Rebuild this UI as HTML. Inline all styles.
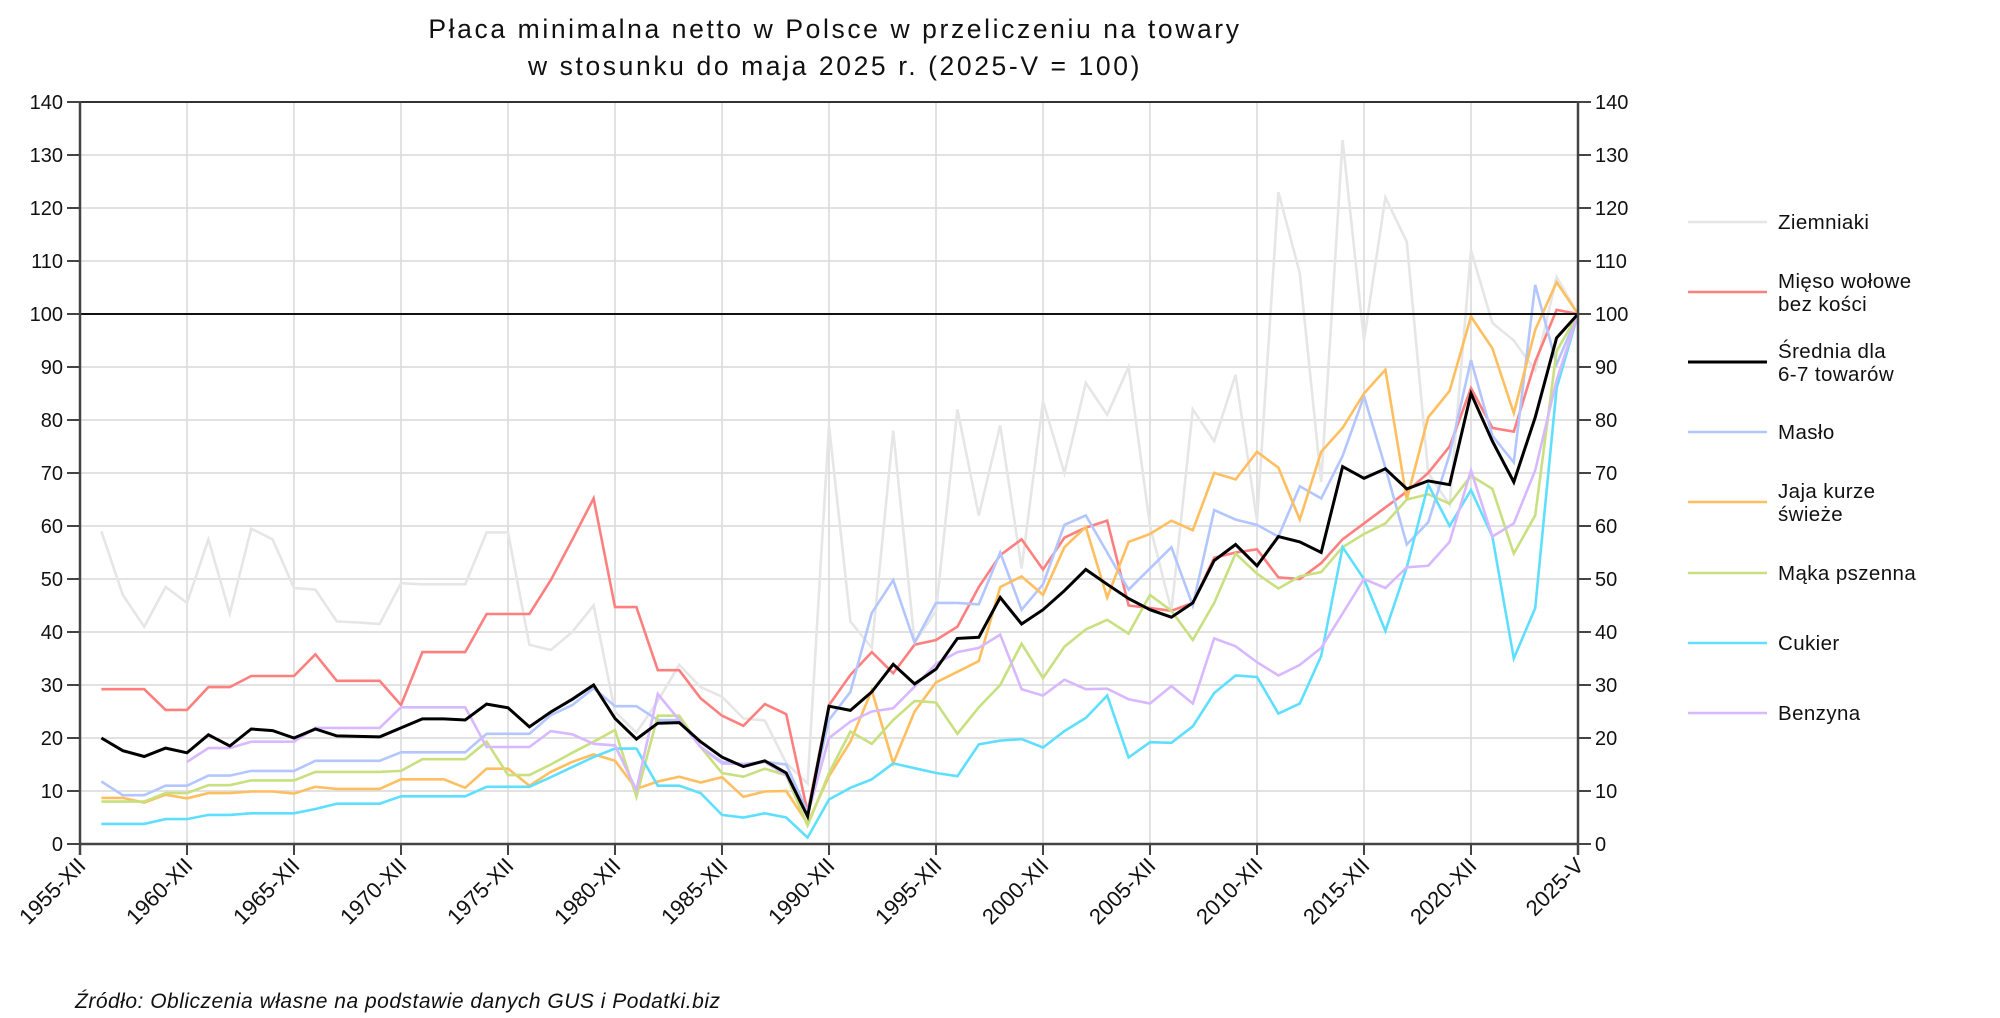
<!DOCTYPE html>
<html><head><meta charset="utf-8"><style>
html,body{margin:0;padding:0;background:#fff;}
svg{display:block;font-family:"Liberation Sans","DejaVu Sans",sans-serif;}
</style></head><body>
<svg id="c" width="2000" height="1018" viewBox="0 0 2000 1018" xmlns="http://www.w3.org/2000/svg">
<rect width="2000" height="1018" fill="#fff"/>
<text x="835" y="38" font-size="26.5" letter-spacing="2.6" text-anchor="middle" fill="#111">Płaca minimalna netto w Polsce w przeliczeniu na towary</text>
<text x="835" y="75" font-size="26.5" letter-spacing="2.6" text-anchor="middle" fill="#111">w stosunku do maja 2025 r. (2025-V = 100)</text>
<g id="grid"></g>
<g id="series"></g>
<g id="axes"></g>
<text x="75" y="1008" font-size="21" letter-spacing="0.5" font-style="italic" fill="#111">Źródło: Obliczenia własne na podstawie danych GUS i Podatki.biz</text>
</svg>
<script>
const NS="http://www.w3.org/2000/svg";
const X0=80,DX=21.4,Y0=844,DY=5.3;
const X=i=>X0+DX*i, Y=v=>Y0-DY*v;
function el(p,t,a,txt){const e=document.createElementNS(NS,t);for(const k in a)e.setAttribute(k,a[k]);if(txt!==undefined)e.textContent=txt;p.appendChild(e);return e;}
const g=document.getElementById('grid'),ax=document.getElementById('axes'),s=document.getElementById('series');
const XR=X(70);
for(let v=10;v<=130;v+=10){el(g,'line',{x1:X0,x2:XR,y1:Y(v),y2:Y(v),stroke:'#d9d9d9','stroke-width':1.5});}
for(let k=1;k<14;k++){el(g,'line',{x1:X(5*k),x2:X(5*k),y1:Y(140),y2:Y0,stroke:'#d9d9d9','stroke-width':1.5});}
el(ax,'line',{x1:X0,x2:XR,y1:Y(140),y2:Y(140),stroke:'#333','stroke-width':2});
el(ax,'line',{x1:X0,x2:XR,y1:Y(100),y2:Y(100),stroke:'#111','stroke-width':2});
el(ax,'line',{x1:X0,x2:X0,y1:Y(140)-1,y2:Y0+11,stroke:'#444','stroke-width':2.5});
el(ax,'line',{x1:XR,x2:XR,y1:Y(140)-1,y2:Y0+11,stroke:'#444','stroke-width':2.5});
el(ax,'line',{x1:X0,x2:XR,y1:Y0,y2:Y0,stroke:'#444','stroke-width':2.5});
for(let v=0;v<=140;v+=10){
 el(ax,'line',{x1:X0-13,x2:X0,y1:Y(v),y2:Y(v),stroke:'#444','stroke-width':2});
 el(ax,'line',{x1:XR,x2:XR+13,y1:Y(v),y2:Y(v),stroke:'#444','stroke-width':2});
 el(ax,'text',{x:63,y:Y(v)+7,'font-size':20,'text-anchor':'end',fill:'#111'},String(v));
 el(ax,'text',{x:XR+17,y:Y(v)+7,'font-size':20,fill:'#111'},String(v));
}
const labs=['1955-XII','1960-XII','1965-XII','1970-XII','1975-XII','1980-XII','1985-XII','1990-XII','1995-XII','2000-XII','2005-XII','2010-XII','2015-XII','2020-XII','2025-V'];
labs.forEach((l,k)=>{const x=X(Math.min(5*k,70));
 el(ax,'line',{x1:x,x2:x,y1:Y0,y2:Y0+11,stroke:'#444','stroke-width':2});
 el(ax,'text',{x:0,y:0,'font-size':22,'text-anchor':'end',fill:'#111',transform:`translate(${x+7},${Y0+23}) rotate(-45)`},l);
});
const D={
z:[null,59,47,41,48.5,45.5,57.5,43.5,59.5,57.5,48.3,48,42,41.8,41.5,49.2,49,49,49,58.8,58.8,37.6,36.6,40,45,25,21,27,33.8,29.6,27.8,23.7,23.3,15.3,11.4,79,42,37,78,38,44,82,62,79,52,83.5,70,87,81,90,60,44,82,76,88.5,61,123,107.7,68.3,132.8,95,122,113.6,70,64,112,98.3,95,89.4,107,100],
m:[null,29.2,29.2,29.2,25.3,25.3,29.6,29.6,31.7,31.7,31.7,35.8,30.8,30.8,30.8,26.2,36.2,36.2,36.2,43.4,43.4,43.4,49.8,57.4,65.2,44.7,44.7,32.8,32.8,27.5,24.2,22.3,26.4,24.5,6,26.2,31.9,36.2,32.2,37.6,38.5,41,48.5,54.5,57.5,51.8,57.8,59.7,61,45,44.5,44,45.5,54,55,55.6,50.3,50,53,57.5,60.5,63.5,66.5,70,75,86,78.5,77.8,91,100.8,100],
a:[null,20,17.6,16.5,18.1,17.2,20.6,18.5,21.7,21.4,20,21.7,20.4,20.3,20.2,21.9,23.6,23.6,23.4,26.4,25.7,22.1,24.9,27.3,30,23.7,19.8,22.8,22.9,19.3,16.4,14.6,15.7,13.4,5.2,26,25.2,28.7,33.9,30.2,33,38.8,39,46.5,41.5,44.2,47.8,51.8,49,46.3,44.2,42.8,45.5,53.5,56.5,52.5,58,57,55,71.2,69,70.8,67,68.5,67.8,85,76,68.3,80.5,95.5,100],
b:[null,11.8,9.2,9.2,11,11,12.9,12.9,13.8,13.8,13.8,15.7,15.7,15.7,15.7,17.3,17.3,17.3,17.3,20.8,20.8,20.8,24.3,26.2,29.4,26,26,23.4,23.4,18.3,15.5,15.1,15.5,15,6,23.4,28.7,43.6,49.8,38,45.5,45.5,45.2,55,44.2,49,60.2,62,55,48,52,56,45,63,61.2,60.2,58,67.5,65.2,73.2,84.5,71,56.5,60.7,73.5,91.3,77,72,105.5,90.5,100],
j:[null,8.7,8.7,7.8,9.3,8.6,9.6,9.6,9.9,9.9,9.5,10.8,10.4,10.4,10.4,12.2,12.2,12.2,10.6,14.2,14.2,11,13.6,15.5,16.9,15.7,10.4,11.8,12.7,11.6,12.6,8.9,9.9,10,3.9,12.8,19.3,29,15.2,25,30.5,32.5,34.5,48.5,50.5,47,56,59.8,46.5,57,58.5,61,59.2,70,68.8,74,71,61.2,74,78.5,85,89.5,65,80.5,85.5,99.5,93.5,81.3,97,106,100],
k:[null,8,8,8,9.6,9.6,11.1,11.1,12,12,12,13.6,13.6,13.6,13.6,13.8,16,16,16,19.3,13,13,15,17.2,19.3,21.5,8.9,24.2,24.2,18.3,13.4,12.7,14.2,13,3.5,13.4,21.2,18.9,23.4,27,26.7,20.8,25.8,30,37.8,31.3,37.2,40.5,42.3,39.7,47,44,38.5,45.5,54.8,51,48.2,50.5,51.3,56,58.5,60.5,65,66,64.2,69.5,67,54.8,62,93,100],
c:[null,3.8,3.8,3.8,4.7,4.7,5.5,5.5,5.8,5.8,5.8,6.6,7.6,7.6,7.6,9,9,9,9,10.8,10.8,10.8,12.6,14.5,16.4,18,18,11,11,9.6,5.5,5,5.8,5,1.2,8.4,10.6,12.2,15.2,14.3,13.4,12.8,18.8,19.5,19.8,18.2,21.3,23.8,28,16.3,19.2,19.1,22.2,28.5,31.8,31.5,24.6,26.5,35.5,56,50,40.2,52.2,67.8,60,66.8,58,35,44.5,86,100],
p:[null,null,null,null,null,15.5,18.1,18.1,19.3,19.3,19.3,21.9,21.9,21.9,21.9,25.8,25.8,25.8,25.8,18.3,18.3,18.3,21.3,20.7,18.9,18.6,10.2,28.3,23.4,18.3,15.2,15.1,15.5,13,5.5,20,23.1,25,25.6,29.7,34,36.2,37,39.5,29.2,28,31,29.2,29.3,27.3,26.5,29.8,26.5,38.8,37.3,34.3,31.8,33.8,37,43.5,50,48.3,52.2,52.5,57,70.5,58,60.5,70.5,87.5,100]
};
const S=[['z','#e6e6e6','Ziemniaki'],['m','#ff7f7f','Mięso wołowe|bez kości'],['b','#b3c6ff','Masło'],['j','#ffbf60','Jaja kurze|świeże'],['k','#c8e07f','Mąka pszenna'],['c','#5fdfff','Cukier'],['p','#d8b8ff','Benzyna'],['a','#000','Średnia dla|6-7 towarów']];
S.forEach(([k,col])=>{const pts=[];D[k].forEach((v,i)=>{if(v!=null)pts.push(X(i).toFixed(1)+','+Y(v).toFixed(1));});
 el(s,'polyline',{points:pts.join(' '),fill:'none',stroke:col,'stroke-width':k==='a'?3:2.6,'stroke-linejoin':'miter'});});
const L=[['z',222],['m',292],['a',362],['b',432],['j',502],['k',573],['c',643],['p',713]];
L.forEach(([k,y])=>{const sp=S.find(q=>q[0]===k);
 el(ax,'line',{x1:1688,x2:1767,y1:y,y2:y,stroke:sp[1],'stroke-width':k==='a'?3:2.6});
 const lines=sp[2].split('|');
 lines.forEach((t,n)=>{const yy=lines.length===1?y+7:y-4+n*23;
  el(ax,'text',{x:1778,y:yy,'font-size':20.5,'letter-spacing':0.4,fill:'#111'},t);});
});
</script>
</body></html>
